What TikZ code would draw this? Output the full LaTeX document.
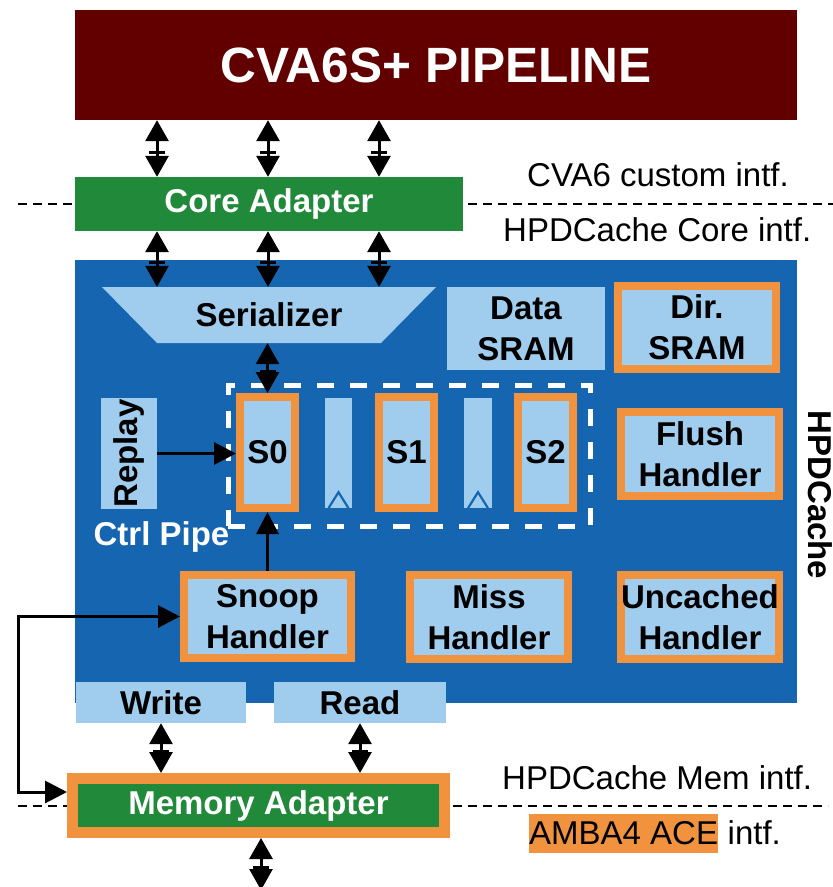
\documentclass[tikz,border=0pt]{standalone}
\usepackage{fontspec}
\setmainfont{Liberation Sans}
\usetikzlibrary{arrows.meta,calc}
\definecolor{pipered}{RGB}{98,0,0}
\definecolor{adgreen}{RGB}{32,137,58}
\definecolor{hpblue}{RGB}{22,101,176}
\definecolor{ltblue}{RGB}{160,205,238}
\definecolor{orng}{RGB}{241,146,62}
\begin{document}
\begin{tikzpicture}[x=1pt,y=-1pt,
  bfont/.style={font=\fontsize{33}{41}\selectfont\bfseries},
  lbl/.style={bfont, align=center, text=black},
  lbox/.style={lbl, fill=ltblue, inner sep=0pt},
  obox/.style={lbox, draw=orng, line width=8pt},
  arr/.style={line width=3pt, -{Triangle[length=22pt,width=22pt]}},
  fb/.style={line width=3pt, {Triangle[length=22pt,width=22pt]}-{Triangle[length=22pt,width=22pt]}},
  dbl/.style={line width=3pt, {Triangle[length=21pt,width=23pt]}-{Triangle[length=21pt,width=23pt]}},
  tick/.style={fill=black, inner sep=0pt, minimum width=16pt, minimum height=3pt, pos=0.57},
  rlbl/.style={font=\fontsize{33}{40}\selectfont, anchor=base west, inner sep=0pt},
  sepline/.style={line width=2pt, dash pattern=on 9pt off 6pt},
]
\useasboundingbox (0,0) rectangle (833,887);
\fill[white] (0,0) rectangle (833,887);

% separators
\draw[sepline] (18,204) -- (833,204);
\draw[sepline] (18,806) -- (828,806);

% top blocks
\node[fill=pipered, minimum width=722pt, minimum height=110pt, inner sep=0pt, text=white,
      font=\fontsize{49.6}{56}\selectfont\bfseries] (pipe) at (436,65) {CVA6S+ PIPELINE};
\node[fill=adgreen, minimum width=388pt, minimum height=54pt, inner sep=0pt, text=white, bfont] (ca) at (269,204) {Core Adapter};

% HPDCache
\node[fill=hpblue, minimum width=722pt, minimum height=443pt, inner sep=0pt] (hp) at (436,481.5) {};
\fill[ltblue] (102,287) -- (436,287) -- (381,343) -- (157,343) -- cycle;
\node[lbl, minimum width=224pt, minimum height=56pt, inner sep=0pt] (ser) at (269,315) {Serializer};
\node[lbox, minimum width=158pt, minimum height=83pt] (data) at (526,328.5) {Data\\SRAM};
\node[obox, minimum width=158pt, minimum height=83pt] (dir) at (697,327.5) {Dir.\\SRAM};
\node[obox, minimum width=158pt, minimum height=84pt] (flush) at (700,454) {Flush\\Handler};

\node[draw=white, line width=5pt, dash pattern=on 17pt off 16pt, minimum width=362pt, minimum height=141pt, inner sep=0pt] (ctrl) at (409,455.5) {};
\node[lbox, rotate=90, minimum width=111pt, minimum height=56pt] (replay) at (129,453.5) {Replay};
\node[obox, minimum width=55pt, minimum height=111pt] (s0) at (267.5,452.5) {S0};
\node[obox, minimum width=55pt, minimum height=111pt] (s1) at (406.5,452.5) {S1};
\node[obox, minimum width=55pt, minimum height=111pt] (s2) at (545.5,452.5) {S2};
\node[lbox, minimum width=27pt, minimum height=110pt] (b1) at (338.5,453) {};
\node[lbox, minimum width=28pt, minimum height=110pt] (b2) at (478,453) {};
\draw[hpblue, line width=2.2pt] ($(b1.south)+(-10,0)$) -- ($(b1.south)+(0,-16)$) -- ($(b1.south)+(10,0)$);
\draw[hpblue, line width=2.2pt] ($(b2.south)+(-10,0)$) -- ($(b2.south)+(0,-16)$) -- ($(b2.south)+(10,0)$);
\node[bfont, text=white, anchor=base, inner sep=0pt] (ctrltxt) at (161.5,545) {Ctrl Pipe};

\node[obox, minimum width=167pt, minimum height=83pt] (snoop) at (267.5,616.5) {Snoop\\Handler};
\node[obox, minimum width=158pt, minimum height=84pt] (miss) at (489,617) {Miss\\Handler};
\node[obox, minimum width=158pt, minimum height=84pt] (unc) at (700,617) {Uncached\\Handler};

\node[lbox, minimum width=170pt, minimum height=41pt] (write) at (161,702.5) {Write};
\node[lbox, minimum width=172pt, minimum height=41pt] (read) at (360,702.5) {Read};

\node[bfont, rotate=-90, inner sep=0pt] (hptxt) at (820,495) {HPDCache};

% memory adapter
\node[fill=adgreen, draw=orng, line width=11pt, minimum width=372pt, minimum height=54pt, inner sep=0pt, text=white, bfont] (mem) at (258.5,805.5) {Memory Adapter};

% right labels
\node[rlbl] (l1) at (527,186) {CVA6 custom intf.};
\node[rlbl] (l2) at (503,241) {HPDCache Core intf.};
\node[rlbl] (l3) at (502,789) {HPDCache Mem intf.};
\node[fill=orng, font=\fontsize{33}{40}\selectfont, inner sep=0pt, text height=30pt, text depth=9pt, anchor=base west] (amba) at (529,844) {AMBA4 ACE};
\node[rlbl] (l4) at ([xshift=9.2pt]amba.base east) {intf.};

% connectors
\coordinate (c1) at (157,0);
\coordinate (c2) at (268,0);
\coordinate (c3) at (379,0);
\foreach \c in {c1,c2,c3} {
  \draw[dbl] (pipe.south -| \c) -- (ca.north -| \c) node[tick] {};
  \draw[dbl] (ca.south -| \c) -- (ser.north -| \c) node[tick] {};
}
\draw[dbl] (ser.south -| s0.north) -- (s0.north) node[tick] {};
\draw[arr] (replay.south) -- (replay.south -| s0.west);
\draw[arr] (snoop.north -| s0.south) -- (s0.south);
\coordinate (fbx) at (18,0);
\draw[fb] (snoop.west) -- (snoop.west -| fbx) -- ([yshift=13.5pt]mem.west -| fbx) -- ([yshift=13.5pt]mem.west);
\draw[dbl] (write.south) -- (write.south |- mem.north) node[tick] {};
\draw[dbl] (read.south) -- (read.south |- mem.north) node[tick] {};
\coordinate (memout) at (261,890);
\draw[dbl] (mem.south -| memout) -- (memout) node[tick] {};
\end{tikzpicture}
\end{document}
